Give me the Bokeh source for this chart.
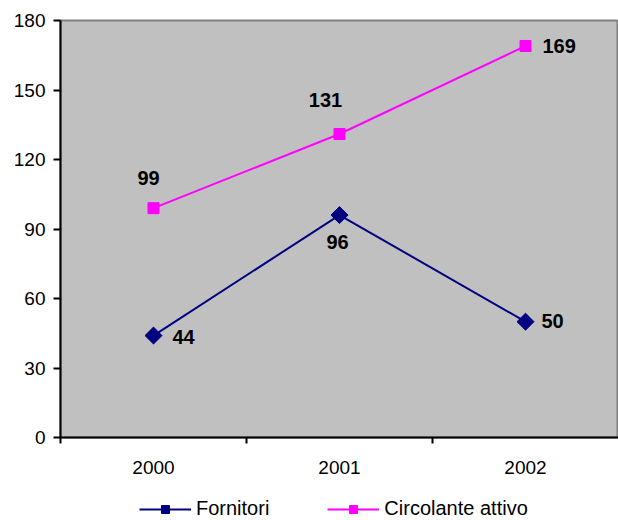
import numpy as np
from bokeh.plotting import figure
from bokeh.layouts import column
from bokeh.models import (ColumnDataSource, Range1d, FixedTicker, Legend, LegendItem)
from bokeh.core.properties import value
from bokeh.embed import file_html
from bokeh.resources import INLINE

years = ["2000", "2001", "2002"]
fornitori = [44, 96, 50]
circolante = [99, 131, 169]
y_ticks = [0, 30, 60, 90, 120, 150, 180]
series_names = ["Fornitori", "Circolante attivo"]

# label placement (screen offsets), style only
forn_lab_align = ["left", "center", "left"]
forn_lab_dx = [19, -2, 16]
forn_lab_dy = [1, 27, -1]
circ_lab_align = ["center", "center", "left"]
circ_lab_dx = [-5, -14, 17]
circ_lab_dy = [-30, -34, 0]

FONT = "Liberation Sans"
NAVY = "#000080"
MAGENTA = "#FF00FF"

xs = np.arange(len(years)) + 0.5

p = figure(width=618, height=482, output_backend="svg", toolbar_location=None,
           x_range=Range1d(0, len(years)), y_range=Range1d(0, 180),
           min_border_left=60, min_border_right=0, min_border_top=20,
           min_border_bottom=45)
p.background_fill_color = "#C0C0C0"
p.border_fill_color = "white"
p.outline_line_color = "#808080"
p.outline_line_width = 2
p.xgrid.grid_line_color = None
p.ygrid.grid_line_color = None

# x axis: labels at category centres, ticks at category boundaries
xa = p.xaxis[0]
xa.ticker = FixedTicker(ticks=[float(v) for v in xs], minor_ticks=list(range(len(years))))
xa.major_label_overrides = {float(x): y for x, y in zip(xs, years)}
xa.major_tick_line_color = None
xa.major_tick_out = 6
xa.major_tick_in = 0
xa.minor_tick_line_color = "black"
xa.minor_tick_line_width = 2
xa.minor_tick_out = 6
xa.minor_tick_in = 0
xa.axis_line_color = "black"
xa.axis_line_width = 2
xa.major_label_text_font = FONT
xa.major_label_text_font_size = "19px"
xa.major_label_text_color = "black"
xa.major_label_standoff = 17

ya = p.yaxis[0]
ya.ticker = FixedTicker(ticks=y_ticks, minor_ticks=[])
ya.major_tick_line_color = "black"
ya.major_tick_line_width = 2
ya.major_tick_out = 7
ya.major_tick_in = 0
ya.minor_tick_line_color = None
ya.axis_line_color = "black"
ya.axis_line_width = 2
ya.major_label_text_font = FONT
ya.major_label_text_font_size = "19px"
ya.major_label_text_color = "black"
ya.major_label_standoff = 8

src_f = ColumnDataSource(dict(x=xs, y=fornitori, t=[str(v) for v in fornitori],
                              al=forn_lab_align, dx=forn_lab_dx, dy=forn_lab_dy))
src_c = ColumnDataSource(dict(x=xs, y=circolante, t=[str(v) for v in circolante],
                              al=circ_lab_align, dx=circ_lab_dx, dy=circ_lab_dy))

p.line("x", "y", source=src_f, line_color=NAVY, line_width=2)
p.scatter("x", "y", source=src_f, marker="square", angle=np.pi / 4, size=12,
          fill_color=NAVY, line_color=NAVY)
p.line("x", "y", source=src_c, line_color=MAGENTA, line_width=2)
p.scatter("x", "y", source=src_c, marker="square", size=11,
          fill_color=MAGENTA, line_color=MAGENTA)

for src in (src_f, src_c):
    p.text("x", "y", text="t", source=src, x_offset="dx", y_offset="dy",
           text_align="al", text_baseline="middle",
           text_font=value(FONT), text_font_style="bold",
           text_font_size="20px", text_color="black")

# legend strip below the chart (series drawn outside its visible range,
# only their legend glyphs show)
q = figure(width=618, height=38, output_backend="svg", toolbar_location=None,
           x_range=Range1d(-10, -9), y_range=Range1d(-10, -9),
           x_axis_type=None, y_axis_type=None, min_border=0)
q.outline_line_color = None
q.xgrid.grid_line_color = None
q.ygrid.grid_line_color = None
qlf = q.line("x", "y", source=src_f, line_color=NAVY, line_width=2)
qmf = q.scatter("x", "y", source=src_f, marker="square", angle=np.pi / 4, size=11,
                fill_color=NAVY, line_color=NAVY)
qlc = q.line("x", "y", source=src_c, line_color=MAGENTA, line_width=2)
qmc = q.scatter("x", "y", source=src_c, marker="square", size=10,
                fill_color=MAGENTA, line_color=MAGENTA)

legend = Legend(items=[LegendItem(label=series_names[0], renderers=[qlf, qmf]),
                       LegendItem(label=series_names[1], renderers=[qlc, qmc])],
                orientation="horizontal", location=(79, 0),
                glyph_width=52, glyph_height=20, label_standoff=5, spacing=58,
                label_text_font=FONT, label_text_font_size="20px",
                label_text_color="black", border_line_color=None,
                background_fill_alpha=0, padding=2, margin=0)
q.add_layout(legend, "center")

layout = column(p, q, spacing=0)
open("out.html", "w").write(file_html(layout, INLINE))
